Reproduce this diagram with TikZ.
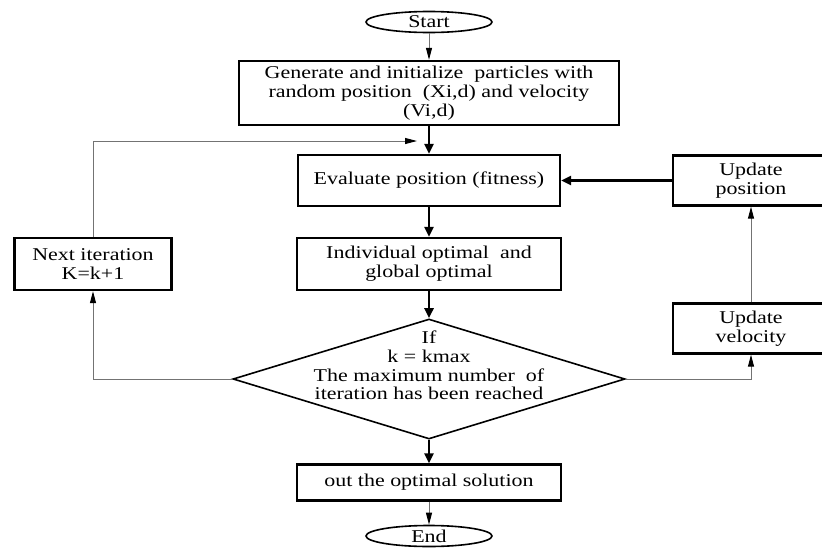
\documentclass[tikz,border=0pt]{standalone}
\usepackage{fontspec}
\setmainfont{Liberation Serif}[FakeStretch=1.22]
\usetikzlibrary{positioning}
\usetikzlibrary{arrows.meta}
\usetikzlibrary{shapes.geometric}

\begin{document}
\begin{tikzpicture}[>={Triangle[length=10pt,width=9pt]},on grid,
                    font=\fontsize{18pt}{18.8pt}\selectfont,
                    box/.style={rectangle,draw,line width=2.4pt,align=center,inner sep=0pt},
                    term/.style={ellipse,draw,line width=1.6pt,minimum width=126pt,minimum height=21pt,inner sep=0pt},
                    decision/.style={diamond,draw,line width=1.6pt,minimum width=392pt,minimum height=120pt,inner sep=0pt},
                    main line/.style={->,line width=2.6pt},
                    side line/.style={-{Triangle[length=12pt,width=6pt,color=black]},draw=black!55,line width=1pt}]
      \useasboundingbox (0,0) rectangle (822pt,-549pt);

      \node[term] (start) at (429pt,-22pt) {Start};
      \node[box,minimum width=380pt,minimum height=64pt] (gen) [below=71pt of start]
            {Generate and initialize~ particles with\\random position~ (Xi,d) and velocity\\(Vi,d)};
      \node[box,minimum width=262pt,minimum height=51pt] (eval) [below=87.5pt of gen] {Evaluate position (fitness)};
      \node[box,minimum width=264pt,minimum height=52pt] (indiv) [below=83.5pt of eval] {Individual optimal~ and\\global optimal};
      \node[decision] (dec) [below=115pt of indiv] {};
      \node[align=center] (dectext) at ([yshift=13.5pt]dec.center)
            {If\\k = kmax\\The maximum number~ of\\iteration has been reached};
      \node[box,minimum width=264pt,minimum height=36pt] (out) [below=103.5pt of dec] {out the optimal solution};
      \node[term] (end) [below=53.5pt of out] {End};

      \node[box,minimum width=157pt,minimum height=52pt] (next) [left=336pt of indiv] {Next iteration\\K=k+1};
      \node[box,minimum width=156pt,minimum height=50pt] (upos) [right=322pt of eval] {Update\\position};
      \node[box,minimum width=156pt,minimum height=50pt] (uvel) [below=148pt of upos] {Update\\velocity};
      \coordinate (join) at (417pt,-141pt);

      \path[main line]
	(gen) edge (eval)
	(eval) edge (indiv)
	(indiv) edge (dec)
	(dec) edge (out)
	(upos) edge (eval);
      \path[side line]
	(start) edge (gen)
	(out) edge (end)
	(uvel) edge (upos);
      \draw[side line] (dec.west) -| (next.south);
      \draw[side line] (next.north) |- (join);
      \draw[side line] (dec.east) -| (uvel.south);
\end{tikzpicture}
\end{document}
